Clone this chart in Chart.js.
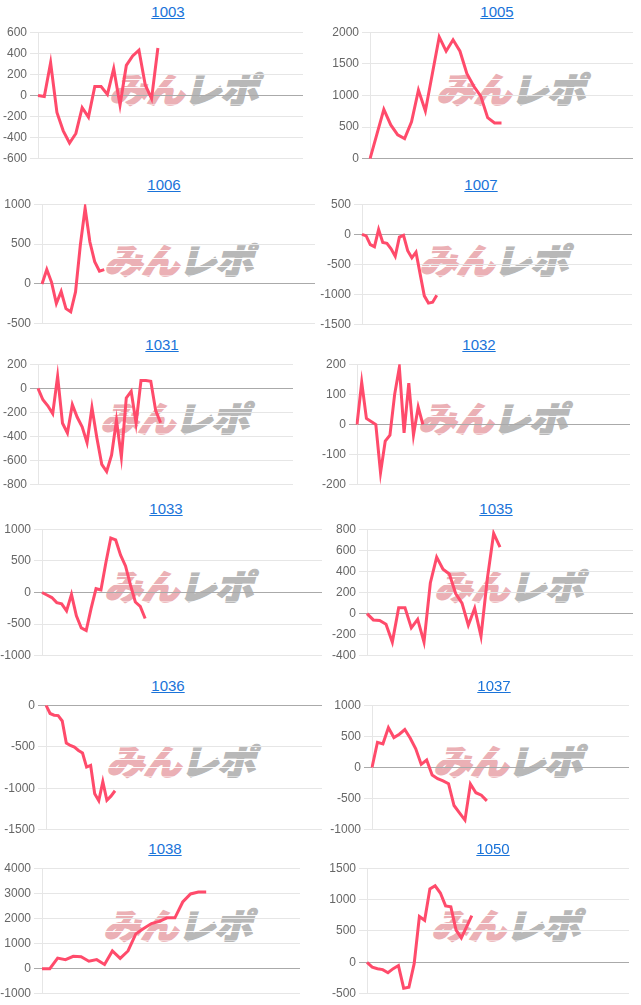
<!DOCTYPE html>
<html><head><meta charset="utf-8">
<script src="https://cdn.jsdelivr.net/npm/chart.js@4"></script>
<style>
html,body{margin:0;padding:0;background:#fff;width:641px;height:1005px;overflow:hidden;position:relative;font-family:Arial,'Liberation Sans',sans-serif;}
.title{position:absolute;width:120px;margin-left:-60px;text-align:center;font-size:15px;line-height:17px;}
.title a{color:#1a73d9;text-decoration:underline;}
.wm{position:absolute;width:170px;margin-left:-85px;height:36px;line-height:36px;text-align:center;white-space:nowrap;
  font-family:'Noto Sans CJK JP',sans-serif;font-weight:900;font-size:38px;letter-spacing:-1px;transform:skewX(-14deg) scaleY(0.92);}
.wm .p{color:#ebb0b5;-webkit-text-stroke:1.5px #ebb0b5;}
.wm .g{color:#b8b8b8;-webkit-text-stroke:1.5px #b8b8b8;}
.wm::after{content:"";position:absolute;left:0;right:0;top:0;bottom:0;
  background-image:repeating-linear-gradient(to bottom,rgba(255,255,255,0) 0px,rgba(255,255,255,0) 8px,rgba(255,255,255,0.9) 8px,rgba(255,255,255,0.9) 9px);}
.box{position:absolute;}
</style>
</head><body>
<script>
// ---- data ----
const xSlots1003 = 43;
const values1003 = [0,-10,310,-160,-335,-450,-360,-115,-205,85,85,10,255,-90,285,375,430,100,-30,450];
const yTicks1003 = [-600,-400,-200,0,200,400,600];

const xSlots1005 = 39;
const values1005 = [0,390,780,535,380,320,585,1085,755,1340,1925,1700,1880,1700,1345,1145,990,650,565,565];
const yTicks1005 = [0,500,1000,1500,2000];

const xSlots1006 = 58;
const values1006 = [0,180,20,-245,-95,-310,-350,-100,485,950,525,280,160,180];
const yTicks1006 = [-500,0,500,1000];

const xSlots1007 = 66;
const values1007 = [0,-25,-170,-205,80,-135,-150,-240,-365,-45,-15,-270,-390,-295,-660,-1020,-1140,-1125,-1010];
const yTicks1007 = [-1500,-1000,-500,0,500];

const xSlots1031 = 53;
const values1031 = [0,-95,-145,-210,100,-290,-370,-135,-240,-320,-450,-160,-410,-630,-690,-555,-265,-570,-80,-25,-290,65,65,58,-185,-285];
const yTicks1031 = [-800,-600,-400,-200,0,200];

const xSlots1032 = 59;
const values1032 = [0,140,20,10,0,-160,-55,-35,100,190,-28,137,-35,58,0];
const yTicks1032 = [-200,-100,0,100,200];

const xSlots1033 = 58;
const values1033 = [0,-40,-80,-160,-180,-290,-30,-370,-560,-600,-250,60,40,470,860,830,590,420,120,-150,-220,-410];
const yTicks1033 = [-1000,-500,0,500,1000];

const xSlots1035 = 43;
const values1035 = [0,-60,-65,-100,-270,55,55,-135,-55,-270,290,535,420,375,190,100,-110,50,-215,330,760,630];
const yTicks1035 = [-400,-200,0,200,400,600,800];

const xSlots1036 = 69;
const values1036 = [0,-100,-120,-125,-190,-455,-485,-505,-545,-575,-745,-725,-1065,-1150,-920,-1145,-1095,-1030];
const yTicks1036 = [-1500,-1000,-500,0];

const xSlots1037 = 48;
const values1037 = [0,405,380,640,480,535,610,470,300,50,120,-120,-180,-215,-260,-610,-730,-845,-265,-405,-445,-535];
const yTicks1037 = [-1000,-500,0,500,1000];

const xSlots1038 = 34;
const values1038 = [0,0,420,360,490,475,295,360,170,705,410,705,1385,1600,1795,1885,2025,2025,2655,2975,3050,3050];
const yTicks1038 = [-1000,0,1000,2000,3000,4000];

const xSlots1050 = 51;
const values1050 = [0,-75,-100,-115,-165,-100,-50,-410,-395,-20,730,670,1170,1220,1105,900,885,515,390,565,745];
const yTicks1050 = [-500,0,500,1000,1500];

// ---- layout ----
Chart.defaults.font.family = "Arial, 'Liberation Sans', sans-serif";
Chart.defaults.font.size = 12;
Chart.defaults.color = '#666';
const AXW = 46;

function panel(name, values, slots, yTicks, geo) {
  const t = document.createElement('div');
  t.className = 'title';
  t.style.left = geo.tx + 'px';
  t.style.top = geo.ty + 'px';
  t.innerHTML = '<a href="#">' + name + '</a>';
  document.body.appendChild(t);

  const w = document.createElement('div');
  w.className = 'wm';
  w.style.left = geo.wx + 'px';
  w.style.top = (geo.wy - 16) + 'px';
  w.innerHTML = '<span class="p">みん</span><span class="g">レポ</span>';
  document.body.appendChild(w);

  const b = document.createElement('div');
  b.className = 'box';
  b.style.left = (geo.pl - AXW) + 'px';
  b.style.top = (geo.pt - 8) + 'px';
  b.style.width = (geo.pr - geo.pl + AXW) + 'px';
  b.style.height = (geo.pb - geo.pt + 16) + 'px';
  const c = document.createElement('canvas');
  b.appendChild(c);
  document.body.appendChild(b);

  const labels = Array.from({length: slots}, (_, i) => String(i + 1));
  new Chart(c, {
    type: 'line',
    data: {
      labels: labels,
      datasets: [{
        data: values,
        borderColor: '#ff4b6b',
        borderWidth: 3,
        pointRadius: 0,
        pointHoverRadius: 0,
        tension: 0,
        fill: false
      }]
    },
    options: {
      responsive: true,
      maintainAspectRatio: false,
      animation: false,
      events: [],
      layout: {padding: {top: 8, bottom: 8, left: 0, right: 0}},
      plugins: {legend: {display: false}, tooltip: {enabled: false}},
      scales: {
        x: {display: false},
        y: {
          min: yTicks[0],
          max: yTicks[yTicks.length - 1],
          afterFit: (axis) => { axis.width = AXW; },
          ticks: {stepSize: yTicks[1] - yTicks[0], color: '#666', padding: 3, font: {size: 12},
                  callback: (v) => String(v)},
          grid: {
            color: (ctx) => (ctx.tick && ctx.tick.value === 0) ? '#aaaaaa' : '#e6e6e6',
            tickLength: 8
          },
          border: {display: true, color: '#e6e6e6'}
        }
      }
    }
  });
}

panel('1003', values1003, xSlots1003, yTicks1003, {tx:168, ty:3,   wx:187, wy:86,  pl:38,  pr:303, pt:30,  pb:161});
panel('1005', values1005, xSlots1005, yTicks1005, {tx:497, ty:3,   wx:514, wy:86,  pl:370, pr:633, pt:30,  pb:161});
panel('1006', values1006, xSlots1006, yTicks1006, {tx:164, ty:176, wx:182, wy:257, pl:42,  pr:315, pt:202, pb:326});
panel('1007', values1007, xSlots1007, yTicks1007, {tx:481, ty:176, wx:497, wy:257, pl:362, pr:632, pt:202, pb:327});
panel('1031', values1031, xSlots1031, yTicks1031, {tx:162, ty:336, wx:178, wy:415, pl:38,  pr:293, pt:362, pb:487});
panel('1032', values1032, xSlots1032, yTicks1032, {tx:479, ty:336, wx:496, wy:415, pl:357, pr:630, pt:362, pb:487});
panel('1033', values1033, xSlots1033, yTicks1033, {tx:166, ty:500, wx:182, wy:583, pl:42,  pr:322, pt:527, pb:658});
panel('1035', values1035, xSlots1035, yTicks1035, {tx:496, ty:500, wx:512, wy:583, pl:367, pr:633, pt:527, pb:658});
panel('1036', values1036, xSlots1036, yTicks1036, {tx:168, ty:677, wx:184, wy:758, pl:46,  pr:322, pt:703, pb:832});
panel('1037', values1037, xSlots1037, yTicks1037, {tx:494, ty:677, wx:511, wy:758, pl:372, pr:629, pt:703, pb:832});
panel('1038', values1038, xSlots1038, yTicks1038, {tx:165, ty:840, wx:181, wy:922, pl:42,  pr:300, pt:866, pb:996});
panel('1050', values1050, xSlots1050, yTicks1050, {tx:493, ty:840, wx:509, wy:922, pl:367, pr:629, pt:866, pb:996});
</script>
</body></html>
